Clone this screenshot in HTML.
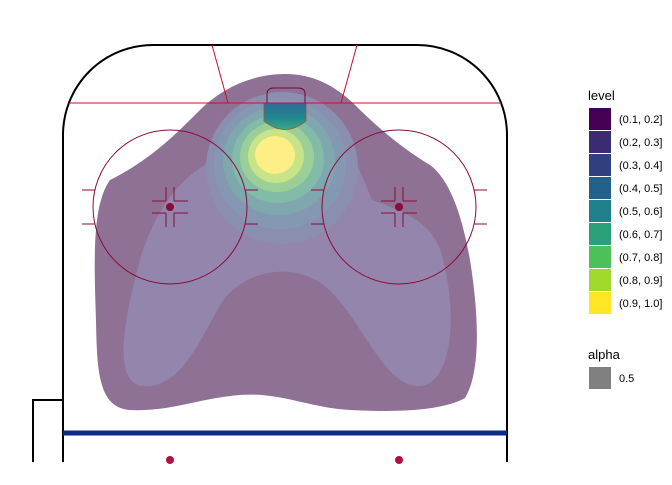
<!DOCTYPE html>
<html><head><meta charset="utf-8"><style>
body{margin:0;background:#fff;font-family:"Liberation Sans",sans-serif}
</style></head><body>
<svg width="672" height="480" viewBox="0 0 672 480" xmlns="http://www.w3.org/2000/svg">
<defs><linearGradient id="cg" x1="0" y1="0" x2="0" y2="1"><stop offset="0" stop-color="#2b6a98"/><stop offset="0.6" stop-color="#238a8e"/><stop offset="1" stop-color="#3aa886"/></linearGradient></defs>
<g id="density"></g>
<g fill="none">
  <path d="M63,462 L63,135 A90,90 0 0 1 153,45 L417,45 A90,90 0 0 1 507,135 L507,462" stroke="#000" stroke-width="2"/>
  <path d="M33,462 L33,400 L63,400" stroke="#000" stroke-width="2"/>
  <line x1="63" y1="433" x2="507" y2="433" stroke="#0c2a8a" stroke-width="5"/>
  <line x1="69" y1="103" x2="501" y2="103" stroke="#c8102e" stroke-width="1"/>
  <path d="M212,45 L228,103 M357,45 L341,103" stroke="#c8102e" stroke-width="1"/>
  <path d="M267,103 L267,94 Q267,88 274,88 L298,88 Q305,88 305,94 L305,103" stroke="#6a0a3a" stroke-width="1"/>
  <g id="circles"></g>
  <circle cx="170" cy="460" r="4" fill="#b01040"/>
  <circle cx="399" cy="460" r="4" fill="#b01040"/>
</g>
<g font-size="11" fill="#000">
  <text x="588" y="100" font-size="13">level</text>
  <g id="legend-keys"></g>
  <text x="588" y="359" font-size="13">alpha</text>
  <rect x="589" y="367" width="22" height="22" fill="#808080"/>
  <text x="619" y="382">0.5</text>
</g>
</svg>
<script>
const levels=["(0.1, 0.2]","(0.2, 0.3]","(0.3, 0.4]","(0.4, 0.5]","(0.5, 0.6]","(0.6, 0.7]","(0.7, 0.8]","(0.8, 0.9]","(0.9, 1.0]"];
const levelColors=["#440154","#3b2c72","#2f3f80","#24618a","#1f808b","#29a077","#4dc05a","#a0d92b","#fde725"];
const blendColors=["#8e7194","#9385ac","#8a8fb0","#8499b1","#7fa8ae","#82bba8","#9bcf97","#c7e489","#fdee86"];
const faceoffX=[170,399];
const NS="http://www.w3.org/2000/svg";
function mk(t,a,p){const e=document.createElementNS(NS,t);for(const k in a)e.setAttribute(k,a[k]);p.appendChild(e);return e;}
const d=document.getElementById('density');
const shapes=[
"M285,74 C250,74 220,90 200,110 C175,135 150,160 110,180 C92,205 94,260 96,320 C97,370 98,408 130,410 C170,412 200,398 240,395 C280,392 310,408 350,410 C390,412 440,412 465,398 C482,370 478,310 470,260 C462,215 450,180 430,165 C405,150 380,130 355,105 C335,85 312,74 285,74 Z",
"M285,92 C245,94 215,125 205,165 C170,185 145,230 135,280 C122,330 115,382 142,386 C180,390 200,340 222,302 C245,270 292,262 322,284 C360,312 382,388 420,386 C456,382 456,305 442,255 C432,222 405,212 372,200 C352,150 330,96 285,92 Z"];
shapes.forEach((s,i)=>{const p=mk('path',{d:s,fill:blendColors[i]},d);

});
const ell=[[282,168,76,76],[280,164,66,65],[279,161,56,54],[278,159,46,44],[277,157,37,35],[276,156,28,27],[275,155,20,19]];
ell.forEach((e,i)=>{const c=mk('ellipse',{cx:e[0],cy:e[1],rx:e[2],ry:e[3],fill:blendColors[i+2]},d);

});
const cr=mk('path',{d:"M264,103 L264,121 Q285,138 306,121 L306,103 Z",fill:"url(#cg)",stroke:"#a0522d","stroke-width":"0.8"},d);


const cg=document.getElementById('circles');
faceoffX.forEach((cx,i)=>{const cy=207;
const c=mk('circle',{cx:cx,cy:cy,r:77,stroke:"#8a0a3a","stroke-width":"1",fill:"none"},cg);


mk('circle',{cx:cx,cy:cy,r:4,fill:"#8a0a3a"},cg);
let h="";
[-1,1].forEach(sx=>{[-1,1].forEach(sy=>{h+=`M${cx+sx*4},${cy+sy*6} L${cx+sx*4},${cy+sy*20} M${cx+sx*4},${cy+sy*6} L${cx+sx*18},${cy+sy*6} `;});});
[-1,1].forEach(sx=>{[-1,1].forEach(sy=>{const x0=cx+sx*75,x1=cx+sx*88;h+=`M${x0},${cy+sy*17} L${x1},${cy+sy*17} `;});});
mk('path',{d:h,stroke:"#8a0a3a","stroke-width":"1",fill:"none"},cg);});
const lk=document.getElementById('legend-keys');
levels.forEach((l,i)=>{const y=108+i*23;
const r=mk('rect',{x:589,y:y,width:22,height:22,fill:levelColors[i]},lk);


const t=mk('text',{x:619,y:y+15},lk);t.textContent=l;

});
</script>
</body></html>
